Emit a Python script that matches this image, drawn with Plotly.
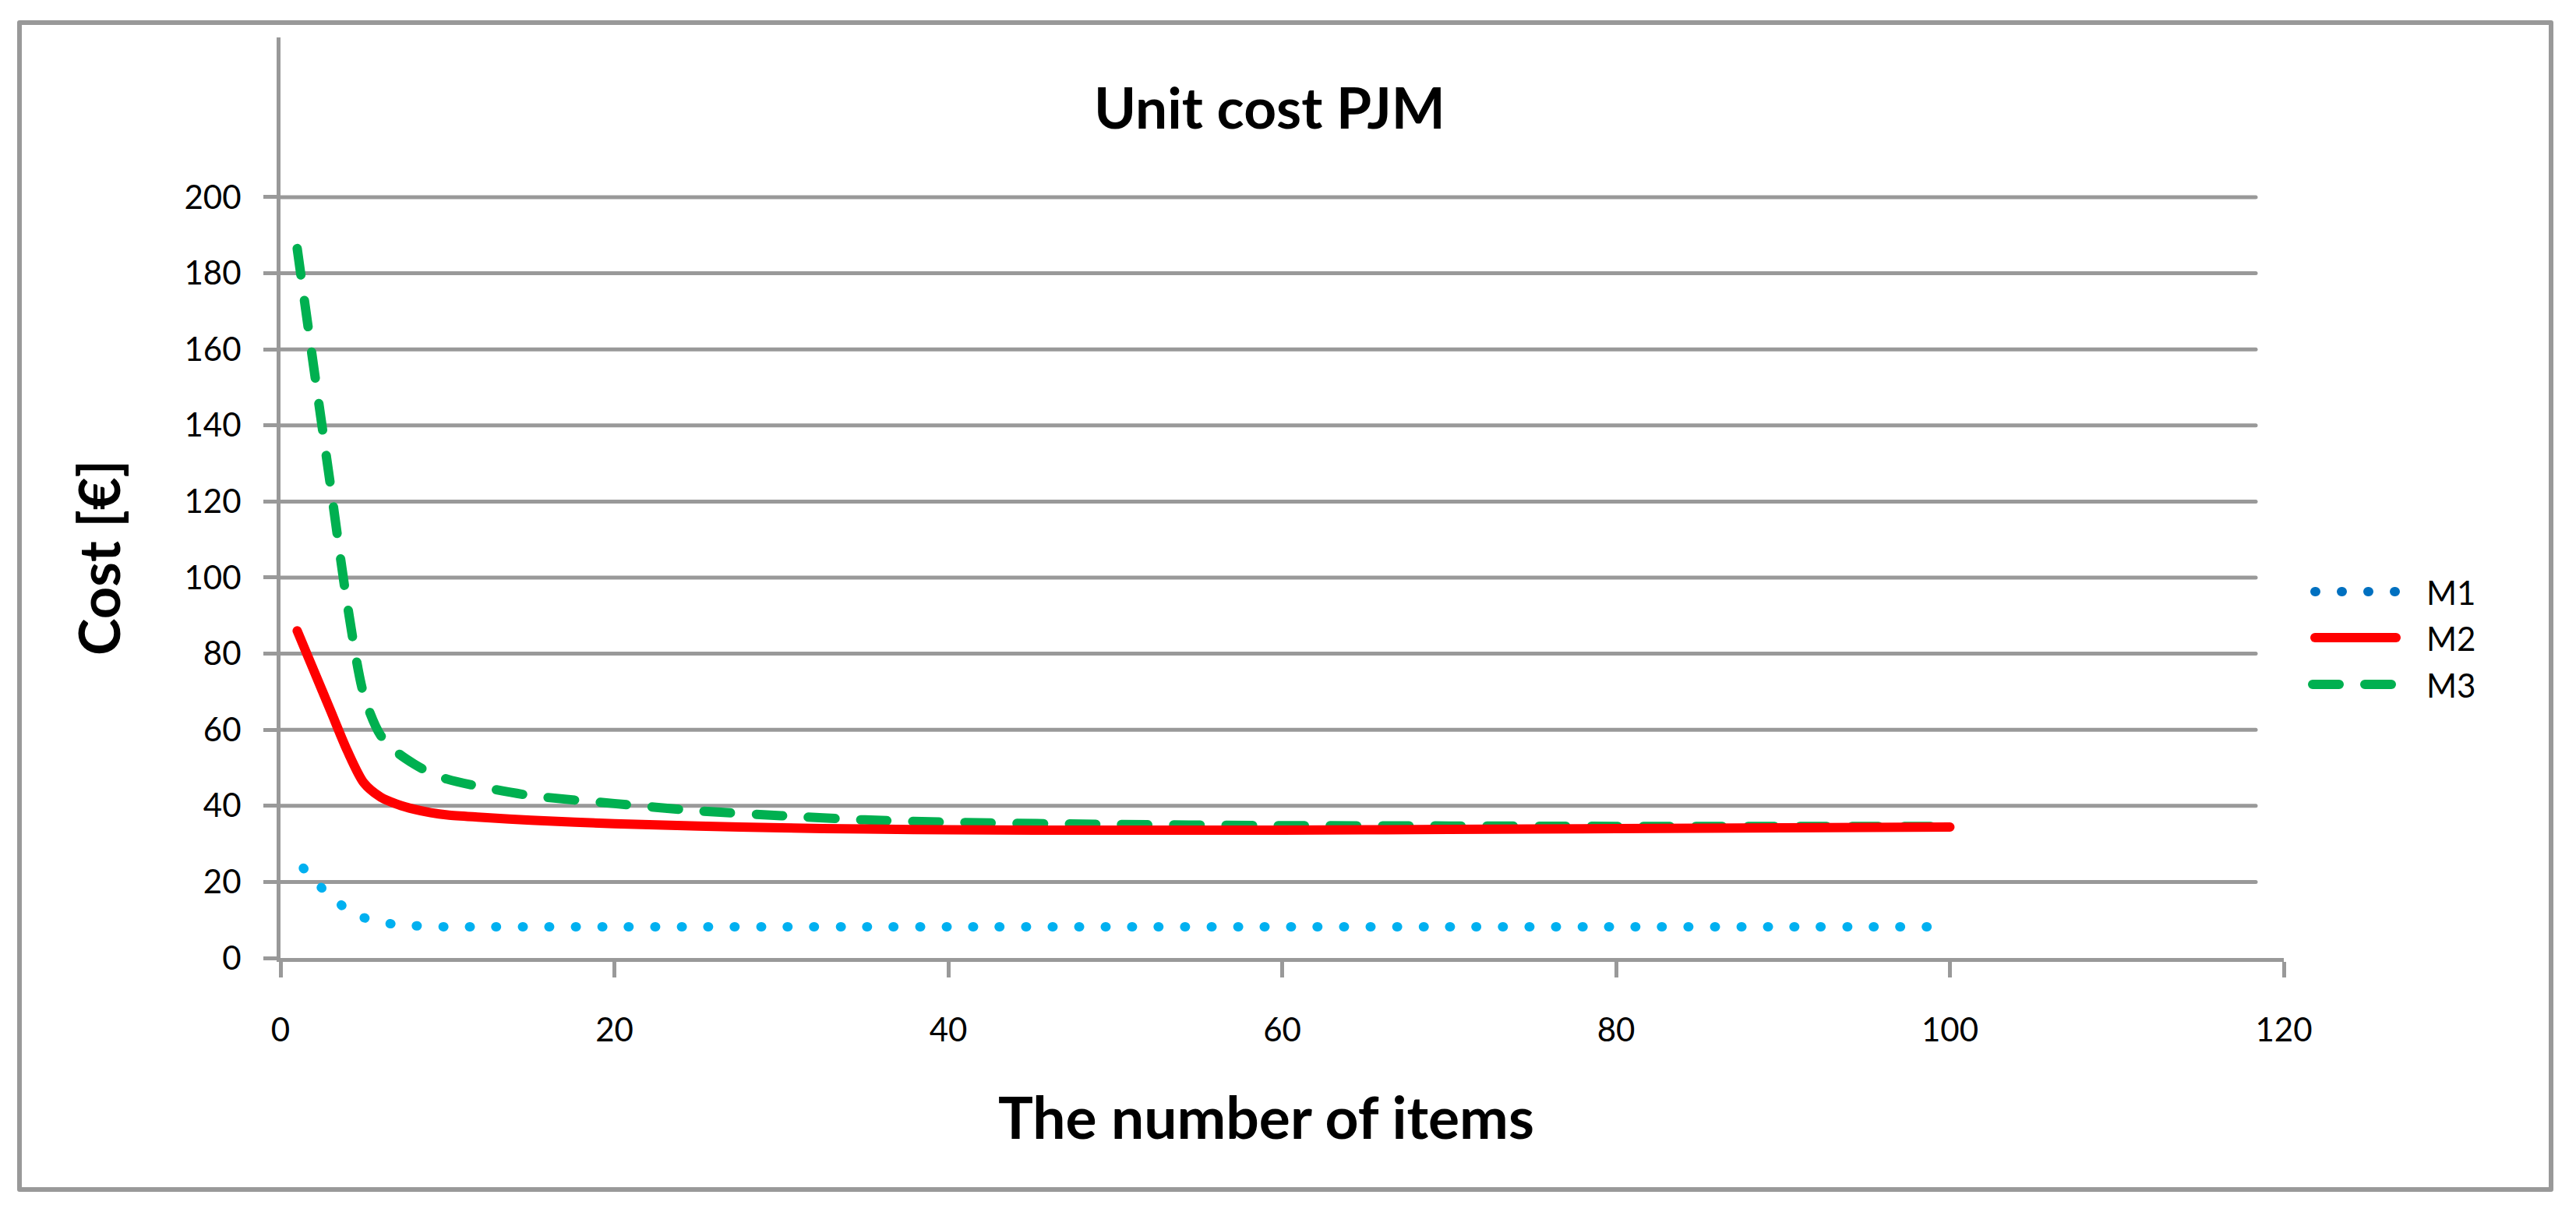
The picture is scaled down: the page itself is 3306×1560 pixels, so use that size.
import plotly.graph_objects as go

# ---------------- data ----------------
items = [1, 2, 3, 4, 5, 6, 7, 8, 9, 10, 12, 15, 20, 25, 30, 35, 40, 50, 60, 70, 80, 90, 100]
m1 = [25.5, 20.5, 16.2, 12.8, 10.6, 9.4, 8.8, 8.5, 8.3, 8.2, 8.2, 8.2, 8.2, 8.2, 8.2, 8.2,
      8.2, 8.2, 8.2, 8.2, 8.2, 8.2, 8.2]
m2 = [86, 75.5, 65, 54.5, 46, 42.3, 40.4, 39.1, 38.2, 37.6, 37.0, 36.2, 35.3, 34.7, 34.2,
      33.9, 33.7, 33.6, 33.6, 33.8, 34.0, 34.2, 34.4]
m3 = [186.5, 155, 124, 93, 69, 58.5, 54, 51, 48.6, 47, 45, 42.7, 40.6, 38.7, 37.4, 36.3,
      35.7, 35.1, 34.8, 34.7, 34.6, 34.6, 34.6]
series_names = ["M1", "M2", "M3"]
x_ticks = [0, 20, 40, 60, 80, 100, 120]
y_ticks = [0, 20, 40, 60, 80, 100, 120, 140, 160, 180, 200]
chart_title = "Unit cost PJM"
x_title = "The number of items"
y_title = "Cost [€]"

# ---------------- layout geometry (pixels) ----------------
W, H = 3306, 1560
PL, PR, PT, PB = 360, 2931, 48, 1229
GRID = "#999999"
FONT = "Lato"


def px(x):
    return (x - PL) / (PR - PL)


def py(y):
    return (PB - y) / (PB - PT)


styles = {
    "M1": dict(color="#00B0F0", legend_color="#0070C0", dash="1px,33px"),
    "M2": dict(color="#FF0000", legend_color="#FF0000", dash="solid"),
    "M3": dict(color="#00B050", legend_color="#00B050", dash="34px,33px"),
}
values = {"M1": m1, "M2": m2, "M3": m3}

fig = go.Figure()
for name in ["M1", "M3", "M2"]:
    st = styles[name]
    fig.add_trace(go.Scatter(
        x=items, y=values[name], mode="lines", name=name, showlegend=False,
        line=dict(color=st["color"], width=12, dash=st["dash"], shape="spline", smoothing=0.8),
        hoverinfo="x+y+name",
    ))

shapes = []
# horizontal gridlines (end a little short of the axis end, as in the reference)
for v in y_ticks[1:]:
    shapes.append(dict(type="line", xref="paper", yref="y", x0=0, x1=px(2895), y0=v, y1=v,
                       line=dict(color=GRID, width=5), layer="below"))
# chart border
shapes.append(dict(type="rect", xref="paper", yref="paper", x0=px(25), x1=px(3274),
                   y0=py(1526), y1=py(29), line=dict(color=GRID, width=6), layer="below"))

annotations = [
    dict(text=f"<b>{chart_title}</b>", x=px(1629), y=py(137), xref="paper", yref="paper",
         showarrow=False, xanchor="center", yanchor="middle",
         font=dict(family=FONT, size=73, color="black")),
    dict(text=f"<b>{x_title}</b>", x=px(1625), y=py(1432), xref="paper", yref="paper",
         showarrow=False, xanchor="center", yanchor="middle",
         font=dict(family=FONT, size=75, color="black")),
    dict(text=f"<b>{y_title}</b>", x=px(126), y=py(716), xref="paper", yref="paper",
         showarrow=False, xanchor="center", yanchor="middle", textangle=-90,
         font=dict(family=FONT, size=72, color="black")),
]

# legend (drawn manually to match long symbol lines)
legend_rows = {"M1": (759, 2971, 3074), "M2": (818, 2971, 3075), "M3": (878, 2968, 3070)}
for name in series_names:
    yc, xa, xb = legend_rows[name]
    st = styles[name]
    shapes.append(dict(type="line", xref="paper", yref="paper", x0=px(xa), x1=px(xb),
                       y0=py(yc), y1=py(yc),
                       line=dict(color=st["legend_color"], width=12, dash=st["dash"])))
    annotations.append(dict(text=name, x=px(3112), y=py(yc + 1), xref="paper", yref="paper",
                            showarrow=False, xanchor="left", yanchor="middle",
                            font=dict(family=FONT, size=42, color="black")))

fig.update_layout(
    width=W, height=H, autosize=False,
    margin=dict(l=PL, r=W - PR, t=PT, b=H - PB, pad=0),
    paper_bgcolor="white", plot_bgcolor="white",
    showlegend=False,
    shapes=shapes, annotations=annotations,
    font=dict(family=FONT, size=42, color="black"),
    xaxis=dict(range=[0, 120], tickvals=x_ticks, ticks="outside", ticklen=20, tickwidth=5,
               tickcolor=GRID, showline=True, linecolor=GRID, linewidth=5, showgrid=False,
               zeroline=False, tickfont=dict(family=FONT, size=42, color="black"),
               ticklabelstandoff=32),
    yaxis=dict(range=[0, 242], tickvals=y_ticks, ticks="outside", ticklen=17, tickwidth=5,
               tickcolor=GRID, showline=True, linecolor=GRID, linewidth=5, showgrid=False,
               zeroline=False, tickfont=dict(family=FONT, size=42, color="black"),
               ticklabelstandoff=20),
)

css = ("body{margin:0;}"
       ".js-line,.shapelayer path{stroke-linecap:round !important;stroke-linejoin:round !important;}"
       ".scatterlayer .trace:first-child .js-line{stroke-dashoffset:22px;}")
post = ("var s=document.createElement('style');s.textContent=" + repr(css) +
        ";document.head.appendChild(s);")

fig.write_html("out.html", post_script=post, config={"displayModeBar": False})
